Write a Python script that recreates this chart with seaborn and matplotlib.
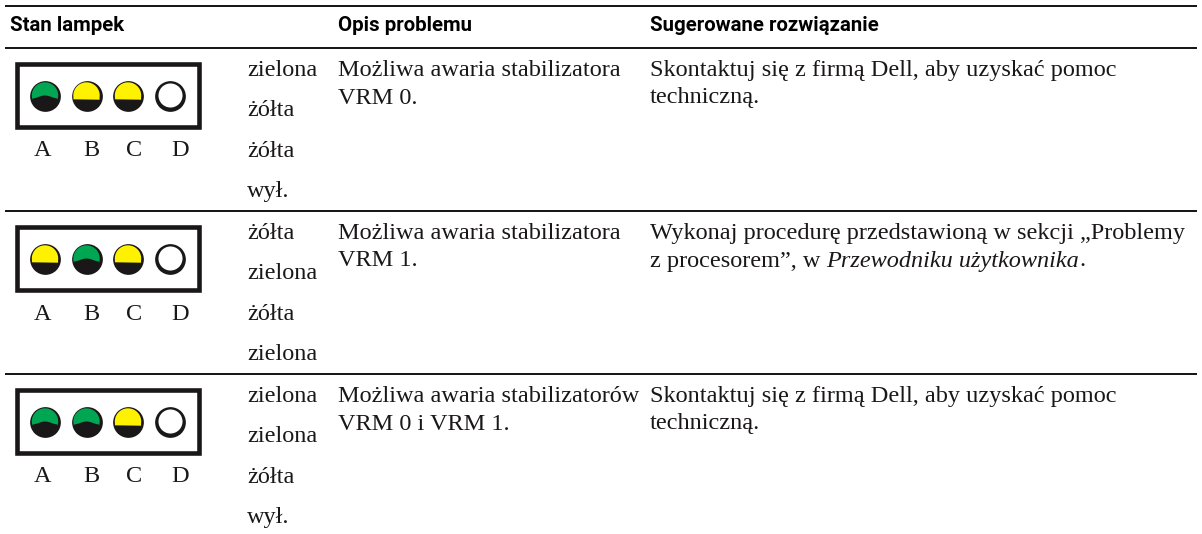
import numpy as np
import pandas as pd
import matplotlib
matplotlib.use("Agg")
import matplotlib.pyplot as plt
import seaborn as sns
from matplotlib.patches import Rectangle

# -----------------------------
# table content
# -----------------------------
headers = ["Stan lampek", "Opis problemu", "Sugerowane rozwiązanie"]
lamp_names = ["A", "B", "C", "D"]

row_lamps = [
    ["green", "yellow", "yellow", "off"],
    ["yellow", "green", "yellow", "off"],
    ["green", "green", "yellow", "off"],
]
row_states = [
    ["zielona", "żółta", "żółta", "wył."],
    ["żółta", "zielona", "żółta", "zielona"],
    ["zielona", "zielona", "żółta", "wył."],
]
row_desc = [
    ["Możliwa awaria stabilizatora", "VRM 0."],
    ["Możliwa awaria stabilizatora", "VRM 1."],
    ["Możliwa awaria stabilizatorów", "VRM 0 i VRM 1."],
]
row_fix = [
    ["Skontaktuj się z firmą Dell, aby uzyskać pomoc", "techniczną."],
    ["Wykonaj procedurę przedstawioną w sekcji „Problemy", "z procesorem”, w "],
    ["Skontaktuj się z firmą Dell, aby uzyskać pomoc", "techniczną."],
]
fix_italic = "Przewodniku użytkownika"

# -----------------------------
# layout (pixels)
# -----------------------------
W, H = 1202, 534
INK = "#1a1718"
GREEN = "#00a651"
YELLOW = "#fff200"
row_top = [47, 210, 373]
lamp_x = [45, 86.5, 128, 169.5]
label_x = [43, 91.5, 134.5, 180]
COL_STATE, COL_DESC, COL_FIX = 247, 338, 650

sns.set_theme(style="white")
body = dict(family="Liberation Serif", fontsize=17.5, color=INK, va="baseline")

fig = plt.figure(figsize=(W / 100, H / 100), dpi=100)
ax = fig.add_axes([0, 0, 1, 1])
ax.set_xlim(0, W)
ax.set_ylim(H, 0)
ax.axis("off")

# rules
ax.hlines(5.5, 5, 1197, color="black", lw=1.3)
ax.hlines(np.array(row_top) + 0.6, 5, 1197, color="black", lw=1.3)

# header
for x, label in zip([10, COL_DESC, COL_FIX], headers):
    ax.text(x, 31, label, family="Roboto", fontsize=14.7, weight="bold", color="black", va="baseline")

# lamp discs
rows = []
for r, lamps in enumerate(row_lamps):
    for i, state in enumerate(lamps):
        rows.append({"x": lamp_x[i], "y": row_top[r] + 49, "state": state})
lamps_df = pd.DataFrame(rows)
sns.scatterplot(data=lamps_df, x="x", y="y", color=INK, s=490, linewidth=0, legend=False, ax=ax, zorder=3)
off = lamps_df[lamps_df["state"] == "off"]
sns.scatterplot(data=off, x="x", y=off["y"] - 1, color="white", s=300, linewidth=0, legend=False, ax=ax, zorder=4)
ax.set_xlabel("")
ax.set_ylabel("")


def cap(cx, cy, colour):
    # lit upper part of a lamp, the lower edge is flat for yellow, humped for green
    r = 13.2
    t = np.linspace(np.radians(200), np.radians(-20), 60) if colour == GREEN else np.linspace(np.radians(188), np.radians(-8), 60)
    arc_x = cx + r * np.cos(t)
    arc_y = cy - 0.5 - r * np.sin(t)
    bx = np.linspace(arc_x[-1], arc_x[0], 30)
    u = (bx - cx) / r
    if colour == GREEN:
        by = cy + 1 - 1.5 * np.cos(u * np.pi)
    else:
        by = cy + 3.5 + 0.2 * u
    ax.fill(np.r_[arc_x, bx], np.r_[arc_y, by], color=colour, lw=0, zorder=5)


for r, lamps in enumerate(row_lamps):
    top = row_top[r]
    ax.add_patch(Rectangle((16.5, top + 17), 182, 63, fill=False, ec=INK, lw=3.3, zorder=3))
    for i, state in enumerate(lamps):
        if state != "off":
            cap(lamp_x[i], top + 49, GREEN if state == "green" else YELLOW)
    for x, name in zip(label_x, lamp_names):
        ax.text(x, top + 109.5, name, ha="center", **body)
    for k, state in enumerate(row_states[r]):
        ax.text(COL_STATE, top + 29 + k * 40.4, state, **body)
    for k, line in enumerate(row_desc[r]):
        ax.text(COL_DESC, top + 29 + k * 27.5, line, **body)
    for k, line in enumerate(row_fix[r]):
        t = ax.text(COL_FIX, top + 29 + k * 27.5, line, **body)
        if r == 1 and k == 1:
            # italic book title runs on after the roman part
            fig.canvas.draw()
            end = t.get_window_extent().x1
            it = ax.text(end, top + 29 + k * 27.5, fix_italic, style="italic", **body)
            end = it.get_window_extent().x1
            ax.text(end, top + 29 + k * 27.5, ".", **body)

fig.savefig("out.png", dpi=100, facecolor="white")
